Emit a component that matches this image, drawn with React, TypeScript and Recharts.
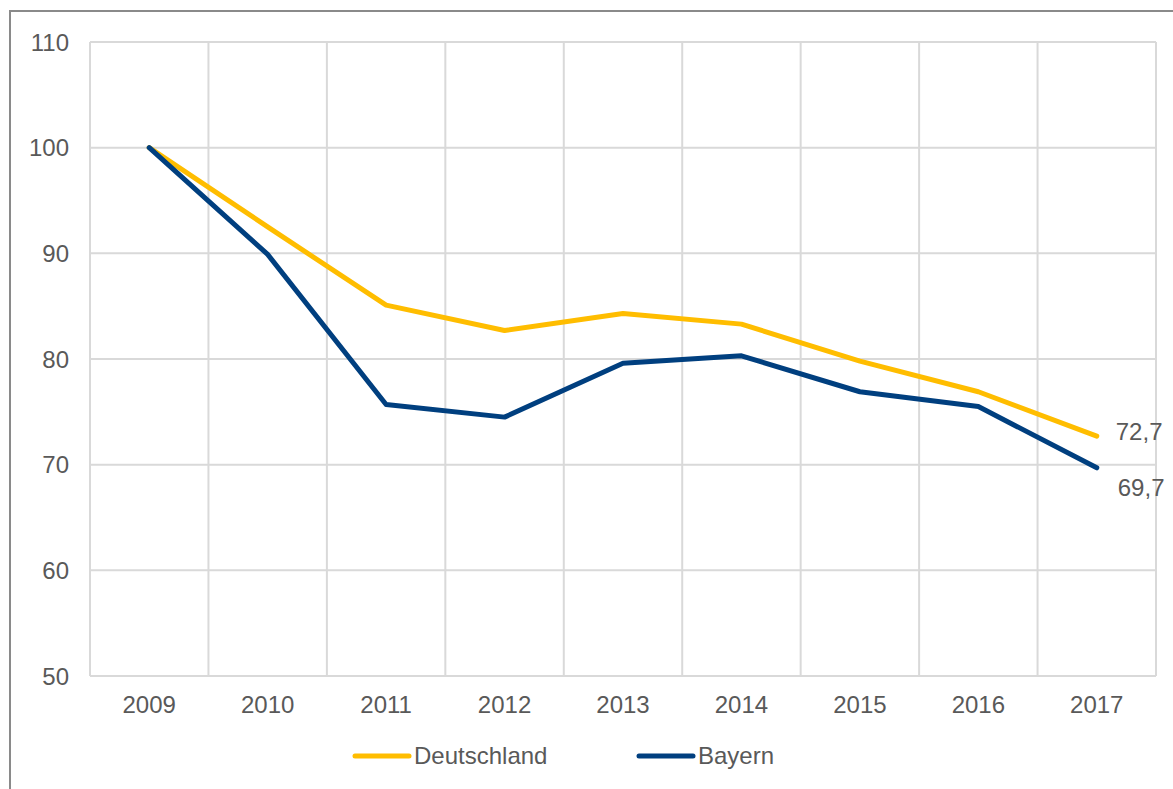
import React from "react";
import {
  LineChart,
  Line,
  XAxis,
  YAxis,
  CartesianGrid,
  ReferenceLine,
  Legend,
  LabelList,
} from "recharts";

const YEARS = [2009, 2010, 2011, 2012, 2013, 2014, 2015, 2016, 2017];
const DEUTSCHLAND = [100, 92.5, 85.1, 82.7, 84.3, 83.3, 79.8, 76.9, 72.7];
const BAYERN = [100, 89.9, 75.7, 74.5, 79.6, 80.3, 76.9, 75.5, 69.7];
const Y_TICKS = [50, 60, 70, 80, 90, 100, 110];
// Grenzen zwischen den Jahren (Excel-Stil: Gitter zwischen den Kategorien)
const BOUNDARIES = [2008.5, 2009.5, 2010.5, 2011.5, 2012.5, 2013.5, 2014.5, 2015.5, 2016.5, 2017.5];

const YELLOW = "#FFBD00";
const BLUE = "#003F7F";
const GRID = "#D9D9D9";
const TEXT = "#595959";
const FONT = '"Liberation Sans", Arial, sans-serif';

const data = YEARS.map((year, i) => ({
  year,
  de: DEUTSCHLAND[i],
  by: BAYERN[i],
}));

const fmt = (v: number) => v.toFixed(1).replace(".", ",");

const lastLabel =
  (dx: number, dy: number) =>
  (props: any) => {
    const { x, y, value, index } = props;
    if (index !== YEARS.length - 1) return null;
    return (
      <text
        x={x + dx}
        y={y + dy}
        dominantBaseline="central"
        fill={TEXT}
        fontSize={24}
        fontFamily={FONT}
      >
        {fmt(value)}
      </text>
    );
  };

const LegendBox = () => (
  <div style={{ position: "relative", height: 40, fontFamily: FONT, fontSize: 24, color: TEXT }}>
    {[
      { name: "Deutschland", color: YELLOW, left: 352 },
      { name: "Bayern", color: BLUE, left: 636 },
    ].map((item) => (
      <div
        key={item.name}
        style={{ position: "absolute", left: item.left, top: 0, display: "flex", alignItems: "center", height: 40 }}
      >
        <svg width={60} height={10} style={{ display: "block" }}>
          <line x1={3} y1={5} x2={57} y2={5} stroke={item.color} strokeWidth={5} strokeLinecap="round" />
        </svg>
        <span style={{ marginLeft: 2 }}>{item.name}</span>
      </div>
    ))}
  </div>
);

export default function App() {
  return (
    <div
      style={{
        position: "absolute",
        left: 0,
        top: 0,
        width: 1173,
        height: 789,
        overflow: "hidden",
        background: "#fff",
      }}
    >
      <div
        style={{
          position: "absolute",
          left: 9,
          top: 10,
          width: 1300,
          height: 900,
          borderLeft: "2px solid #8A8A8A",
          borderTop: "2px solid #8A8A8A",
        }}
      />
      <LineChart
        width={1173}
        height={789}
        data={data}
        margin={{ top: 42, right: 17, bottom: 0, left: 0 }}
        style={{ position: "absolute", left: 0, top: 0 }}
      >
        <CartesianGrid vertical={false} stroke={GRID} strokeWidth={2} />
        {BOUNDARIES.map((b) => (
          <ReferenceLine key={b} x={b} stroke={GRID} strokeWidth={2} />
        ))}
        <XAxis
          dataKey="year"
          type="number"
          domain={[2008.5, 2017.5]}
          ticks={YEARS}
          allowDataOverflow
          height={73}
          tickSize={0}
          tickMargin={20}
          axisLine={{ stroke: GRID, strokeWidth: 2 }}
          tick={{ fontSize: 24, fill: TEXT, fontFamily: FONT }}
        />
        <YAxis
          domain={[50, 110]}
          ticks={Y_TICKS}
          width={90}
          tickSize={0}
          tickMargin={21}
          axisLine={false}
          tick={{ fontSize: 24, fill: TEXT, fontFamily: FONT }}
        />
        <Legend
          verticalAlign="bottom"
          content={<LegendBox />}
          wrapperStyle={{ position: "absolute", left: 0, top: 736, width: 1173 }}
        />
        <Line
          type="linear"
          dataKey="de"
          name="Deutschland"
          stroke={YELLOW}
          strokeWidth={5}
          strokeLinecap="round"
          strokeLinejoin="round"
          dot={false}
          isAnimationActive={false}
        >
          <LabelList dataKey="de" content={lastLabel(19, -5)} />
        </Line>
        <Line
          type="linear"
          dataKey="by"
          name="Bayern"
          stroke={BLUE}
          strokeWidth={5}
          strokeLinecap="round"
          strokeLinejoin="round"
          dot={false}
          isAnimationActive={false}
        >
          <LabelList dataKey="by" content={lastLabel(21, 20)} />
        </Line>
      </LineChart>
    </div>
  );
}
